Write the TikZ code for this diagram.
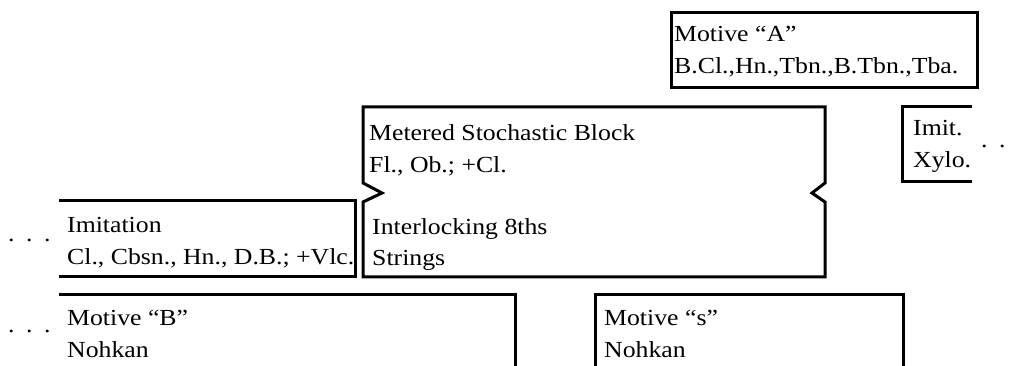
\documentclass[tikz,border=0pt]{standalone}
\usepackage{fontspec}
\setmainfont{Liberation Serif}[FakeStretch=1.12]
\usetikzlibrary{positioning}

\begin{document}
\begin{tikzpicture}[
    x=1pt, y=-1pt,
    txt/.style={
      anchor=base west, inner sep=0pt, align=left,
      font=\fontsize{23}{32}\selectfont
    },
    dots/.style={anchor=base west, inner sep=0pt, font=\fontsize{23}{32}\selectfont},
    frame/.style={line width=3pt, line join=miter, black}
  ]
  \useasboundingbox (0,0) rectangle (1018,366);

  % Top row: Motive "A" (nodes sit on the baseline of their last line)
  \node[txt] (mota) at (674,74) {Motive “A”\\B.Cl.,Hn.,Tbn.,B.Tbn.,Tba.};
  \draw[frame] (671,13) rectangle (977,88);

  % Middle row: stochastic block with notches
  \node[txt] (msb)   at (369,173) {Metered Stochastic Block\\Fl., Ob.; +Cl.};
  \node[txt] (inter) at (372,266) {Interlocking 8ths\\Strings};
  \draw[frame] (363,107) -- (825,107) -- (825,183) -- (812,193) -- (825,202)
               -- (825,277) -- (363,277) -- (363,202) -- (382,193) -- (363,183) -- cycle;

  % Imit. box, open to the right
  \node[txt] (imitx) at (913,168) {Imit.\\Xylo.};
  \draw[frame] (972,107) -- (902,107) -- (902,182) -- (972,182);
  \node[dots] (rdots) at (981,148) {.\hskip0.5em.\hskip0.5em.};

  % Imitation, open to the left
  \node[txt] (imitl) at (67,265) {Imitation\\Cl., Cbsn., Hn., D.B.; +Vlc.};
  \draw[frame] (59,201) -- (355,201) -- (355,277) -- (59,277);
  \node[dots] (ldotsa) at (8,242) {.\hskip0.5em.\hskip0.5em.};

  % Bottom row: Motive "B" and Motive "s"
  \node[txt] (motb) at (67,357) {Motive “B”\\Nohkan};
  \draw[frame] (59,295) -- (515,295) -- (515,368);
  \node[dots] (ldotsb) at (8,332) {.\hskip0.5em.\hskip0.5em.};

  \node[txt] (mots) at (604,357) {Motive “s”\\Nohkan};
  \draw[frame] (595,368) -- (595,295) -- (903,295) -- (903,368);
\end{tikzpicture}
\end{document}
